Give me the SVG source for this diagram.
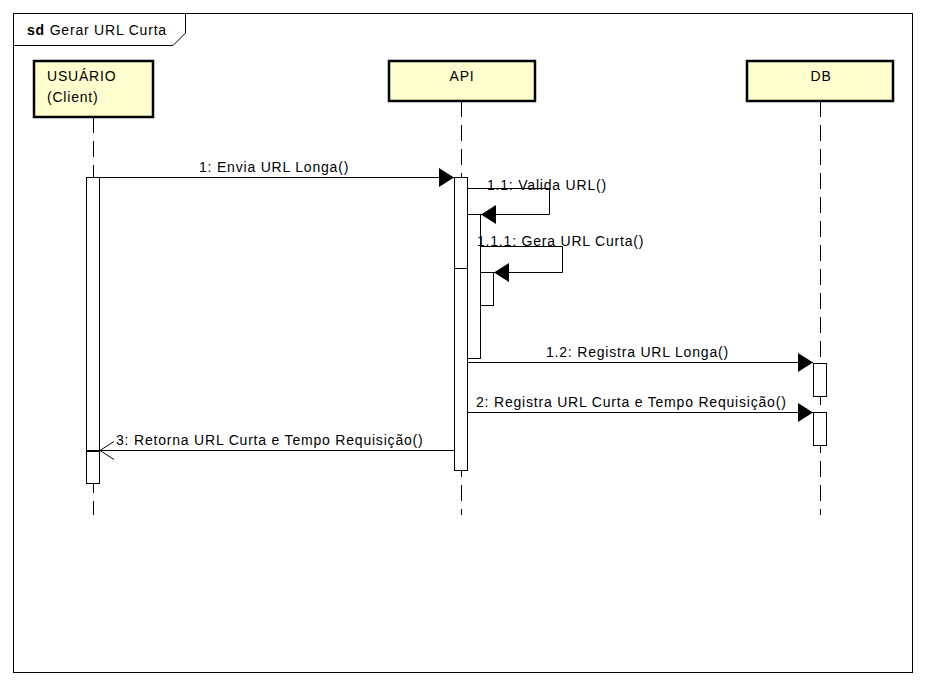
<svg xmlns="http://www.w3.org/2000/svg" width="926" height="686" viewBox="0 0 926 686">
<style>
text{font-family:"Liberation Sans",Arial,sans-serif;font-size:14px;letter-spacing:0.8px;fill:#000}
.box{fill:#FEFECE;stroke:#000;stroke-width:2.5}
.life{stroke:#000;stroke-width:1;stroke-dasharray:16 8;fill:none}
.act{fill:#fff;stroke:#000;stroke-width:1}
.msg{stroke:#000;stroke-width:1;fill:none}
</style>
<defs>
<marker id="fill" markerWidth="15" markerHeight="19" refX="15" refY="9.5" orient="auto" markerUnits="userSpaceOnUse">
<path d="M0,0 L15,9.5 L0,19 Z" fill="#000"/>
</marker>
<marker id="open" markerWidth="15" markerHeight="20" refX="14" refY="10" orient="auto" markerUnits="userSpaceOnUse">
<path d="M0,1 L14,10 L0,19" fill="none" stroke="#000" stroke-width="1"/>
</marker>
</defs>
<rect width="926" height="686" fill="#fff"/>
<g id="frame">
<rect x="13.5" y="13.5" width="899" height="659" fill="none" stroke="#000" stroke-width="1"/>
<path d="M13.5,45.5 H173 L185.5,33 V13.5" fill="none" stroke="#000" stroke-width="1"/>
<text x="27" y="35"><tspan font-weight="bold">sd</tspan> Gerar URL Curta</text>
</g>
<g id="lifelines">
<line class="life" x1="93.5" y1="117" x2="93.5" y2="515"/>
<line class="life" x1="461.5" y1="101" x2="461.5" y2="515"/>
<line class="life" x1="820.5" y1="101" x2="820.5" y2="515"/>
</g>
<g id="usuario">
<rect class="box" x="34" y="61" width="119" height="56"/>
<text x="47" y="81">USUÁRIO</text>
<text x="47" y="102">(Client)</text>
<rect class="act" x="86.5" y="177.5" width="13" height="273"/>
<rect class="act" x="86.5" y="451.5" width="13" height="32"/>
</g>
<g id="api">
<rect class="box" x="389" y="61" width="146" height="40"/>
<text x="462" y="81" text-anchor="middle">API</text>
<rect class="act" x="454.5" y="177.5" width="13" height="91"/>
<rect class="act" x="454.5" y="268.5" width="13" height="202"/>
<rect class="act" x="467.5" y="214.5" width="13" height="144"/>
<rect class="act" x="480.5" y="272.5" width="13" height="33"/>
</g>
<g id="db">
<rect class="box" x="747" y="61" width="146" height="40"/>
<text x="821" y="81" text-anchor="middle">DB</text>
<rect class="act" x="813.5" y="363.5" width="13" height="33"/>
<rect class="act" x="813.5" y="412.5" width="13" height="33"/>
</g>
<g id="connectors">
<line class="msg" x1="100" y1="177.5" x2="454" y2="177.5" marker-end="url(#fill)"/>
<text x="199" y="172">1: Envia URL Longa()</text>
<path class="msg" d="M468,188.5 H549.5 V214.5 H481" marker-end="url(#fill)"/>
<text x="487" y="190">1.1: Valida URL()</text>
<path class="msg" d="M481,246.5 H562.5 V272.5 H494" marker-end="url(#fill)"/>
<text x="477" y="246">1.1.1: Gera URL Curta()</text>
<line class="msg" x1="468" y1="362.5" x2="813" y2="362.5" marker-end="url(#fill)"/>
<text x="546" y="357">1.2: Registra URL Longa()</text>
<line class="msg" x1="468" y1="412.5" x2="813" y2="412.5" marker-end="url(#fill)"/>
<text x="476" y="407">2: Registra URL Curta e Tempo Requisição()</text>
<line class="msg" x1="454" y1="450.5" x2="100" y2="450.5" marker-end="url(#open)"/>
<text x="116" y="445">3: Retorna URL Curta e Tempo Requisição()</text>
</g>
</svg>
